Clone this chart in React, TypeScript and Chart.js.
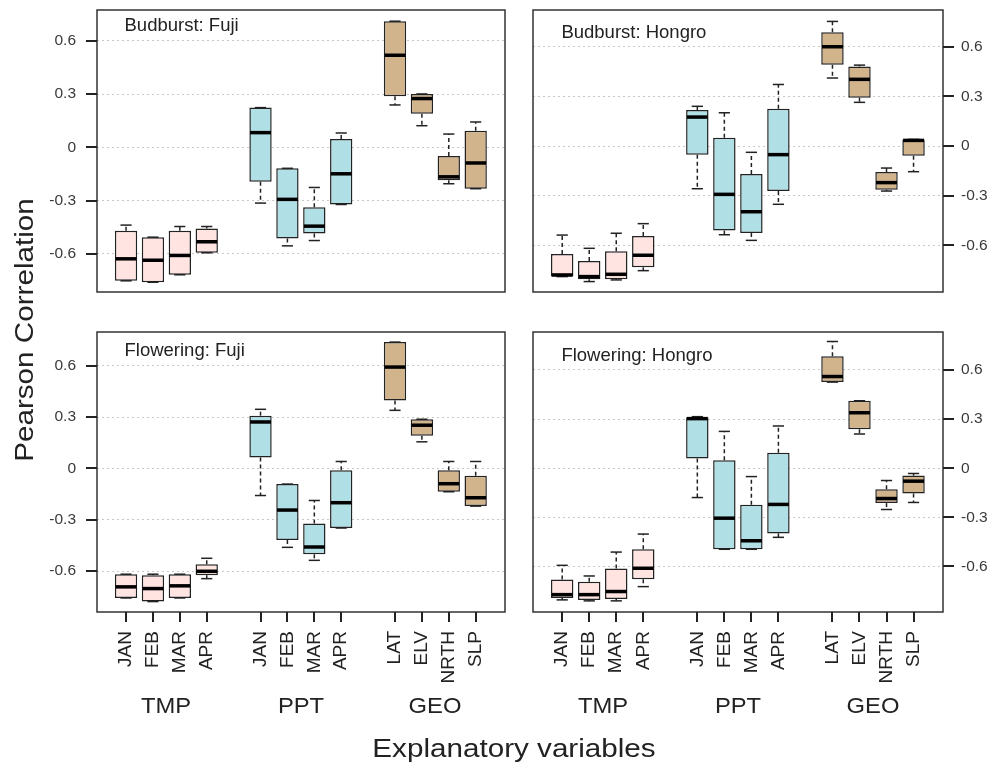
import React, { useEffect, useRef } from 'react';
import { Chart, registerables } from 'chart.js';
Chart.register(...registerables);

const FONT = '"Liberation Sans", Arial, Helvetica, sans-serif';
const W = 998;
const H = 766;

// ---------- data ----------
const positions = [1, 2, 3, 4, 6, 7, 8, 9, 11, 12, 13, 14];
const varLabels = ['JAN', 'FEB', 'MAR', 'APR', 'JAN', 'FEB', 'MAR', 'APR', 'LAT', 'ELV', 'NRTH', 'SLP'];
const varGroup = ['TMP', 'TMP', 'TMP', 'TMP', 'PPT', 'PPT', 'PPT', 'PPT', 'GEO', 'GEO', 'GEO', 'GEO'];
const groupNames = ['TMP', 'PPT', 'GEO'];
const groupCenters = [2.5, 7.5, 12.5];
const yTickValues = [-0.6, -0.3, 0, 0.3, 0.6];
const yTickLabels = ['-0.6', '-0.3', '0', '0.3', '0.6'];

// Budburst: Fuji
const bfLow = [-0.752, -0.76, -0.718, -0.594, -0.314, -0.555, -0.525, -0.322, 0.239, 0.122, -0.205, -0.233];
const bfQ1 = [-0.752, -0.76, -0.718, -0.594, -0.194, -0.513, -0.485, -0.322, 0.288, 0.19, -0.186, -0.233];
const bfMed = [-0.628, -0.636, -0.609, -0.532, 0.083, -0.293, -0.444, -0.149, 0.519, 0.275, -0.166, -0.088];
const bfQ3 = [-0.47, -0.506, -0.47, -0.457, 0.224, -0.118, -0.337, 0.047, 0.711, 0.301, -0.049, 0.094];
const bfHigh = [-0.438, -0.506, -0.446, -0.446, 0.224, -0.118, -0.226, 0.081, 0.711, 0.301, 0.075, 0.143];

// Budburst: Hongro
const bhLow = [-0.789, -0.819, -0.809, -0.753, -0.258, -0.536, -0.57, -0.352, 0.411, 0.264, -0.272, -0.155];
const bhQ1 = [-0.789, -0.805, -0.805, -0.733, -0.052, -0.511, -0.525, -0.272, 0.491, 0.292, -0.264, -0.058];
const bhMed = [-0.779, -0.789, -0.775, -0.66, 0.175, -0.292, -0.397, -0.052, 0.6, 0.403, -0.221, 0.034];
const bhQ3 = [-0.652, -0.695, -0.636, -0.544, 0.217, 0.05, -0.169, 0.225, 0.687, 0.481, -0.157, 0.04];
const bhHigh = [-0.538, -0.618, -0.527, -0.469, 0.24, 0.201, -0.038, 0.372, 0.753, 0.489, -0.133, 0.04];

// Flowering: Fuji
const ffLow = [-0.757, -0.778, -0.757, -0.644, -0.158, -0.461, -0.537, -0.348, 0.34, 0.156, -0.136, -0.22];
const ffQ1 = [-0.757, -0.778, -0.757, -0.624, 0.064, -0.418, -0.502, -0.348, 0.397, 0.191, -0.136, -0.22];
const ffMed = [-0.692, -0.702, -0.686, -0.601, 0.272, -0.243, -0.459, -0.2, 0.593, 0.253, -0.089, -0.171];
const ffQ3 = [-0.618, -0.624, -0.618, -0.56, 0.309, -0.091, -0.321, -0.01, 0.739, 0.288, -0.01, -0.043];
const ffHigh = [-0.618, -0.618, -0.618, -0.525, 0.346, -0.091, -0.187, 0.041, 0.739, 0.288, 0.041, 0.041];

// Flowering: Hongro
const fhLow = [-0.804, -0.81, -0.81, -0.723, -0.179, -0.495, -0.495, -0.422, 0.526, 0.209, -0.252, -0.209];
const fhQ1 = [-0.792, -0.804, -0.798, -0.678, 0.059, -0.495, -0.495, -0.398, 0.526, 0.238, -0.213, -0.154];
const fhMed = [-0.772, -0.772, -0.753, -0.611, 0.303, -0.305, -0.443, -0.221, 0.56, 0.339, -0.185, -0.079];
const fhQ3 = [-0.68, -0.694, -0.613, -0.495, 0.311, 0.049, -0.223, 0.095, 0.684, 0.412, -0.128, -0.045];
const fhHigh = [-0.593, -0.658, -0.512, -0.402, 0.315, 0.225, -0.051, 0.258, 0.774, 0.412, -0.075, -0.032];

// ---------- styling / layout ----------
const groupColors: Record<string, string> = { TMP: '#FFE4E1', PPT: '#B0E0E6', GEO: '#D2B48C' };
const X_MIN = -0.08;
const X_MAX = 15.09;
const Y_TICK_LEN = 11;
const X_TICK_LEN = 10;

const panels = [
  { key: 'bf', title: 'Budburst: Fuji', lo: bfLow, q1: bfQ1, med: bfMed, q3: bfQ3, hi: bfHigh,
    area: { l: 97, r: 505, t: 10, b: 292 }, yMin: -0.815, yMax: 0.774, side: 'left', showX: false,
    titlePos: { left: 124.5, top: 15.9 } },
  { key: 'bh', title: 'Budburst: Hongro', lo: bhLow, q1: bhQ1, med: bhMed, q3: bhQ3, hi: bhHigh,
    area: { l: 533, r: 943, t: 10, b: 292 }, yMin: -0.882, yMax: 0.822, side: 'right', showX: false,
    titlePos: { left: 561.4, top: 22.6 } },
  { key: 'ff', title: 'Flowering: Fuji', lo: ffLow, q1: ffQ1, med: ffMed, q3: ffQ3, hi: ffHigh,
    area: { l: 97, r: 505, t: 332, b: 612 }, yMin: -0.839, yMax: 0.798, side: 'left', showX: true,
    titlePos: { left: 124.5, top: 340.9 } },
  { key: 'fh', title: 'Flowering: Hongro', lo: fhLow, q1: fhQ1, med: fhMed, q3: fhQ3, hi: fhHigh,
    area: { l: 533, r: 943, t: 332, b: 612 }, yMin: -0.878, yMax: 0.832, side: 'right', showX: true,
    titlePos: { left: 561.4, top: 345.9 } },
];

function line(ctx: any, x1: number, y1: number, x2: number, y2: number) {
  ctx.beginPath();
  ctx.moveTo(x1, y1);
  ctx.lineTo(x2, y2);
  ctx.stroke();
}

function makeExtras(p: any) {
  return {
    id: 'boxExtras_' + p.key,
    afterDatasetsDraw(chart: any) {
      const ctx = chart.ctx;
      const xs = chart.scales.x;
      const ys = chart.scales.y;
      const meta = chart.getDatasetMeta(0);
      ctx.save();
      positions.forEach((pos, i) => {
        const bar = meta.data[i];
        const w = bar.width;
        const cx = xs.getPixelForValue(pos);
        const yLo = ys.getPixelForValue(p.lo[i]);
        const yQ1 = ys.getPixelForValue(p.q1[i]);
        const yMed = ys.getPixelForValue(p.med[i]);
        const yQ3 = ys.getPixelForValue(p.q3[i]);
        const yHi = ys.getPixelForValue(p.hi[i]);
        ctx.strokeStyle = '#222';
        ctx.lineWidth = 1.5;
        ctx.lineCap = 'butt';
        ctx.setLineDash([4, 3]);
        if (p.hi[i] > p.q3[i]) line(ctx, cx, yQ3, cx, yHi);
        if (p.lo[i] < p.q1[i]) line(ctx, cx, yQ1, cx, yLo);
        ctx.setLineDash([]);
        line(ctx, cx - w / 4, yHi, cx + w / 4, yHi);
        line(ctx, cx - w / 4, yLo, cx + w / 4, yLo);
        ctx.strokeStyle = '#000';
        ctx.lineWidth = 3.5;
        line(ctx, cx - w / 2 + 0.75, yMed, cx + w / 2 - 0.75, yMed);
      });
      ctx.restore();
    },
    afterDraw(chart: any) {
      const ctx = chart.ctx;
      const a = chart.chartArea;
      const xs = chart.scales.x;
      const ys = chart.scales.y;
      ctx.save();
      ctx.strokeStyle = '#333';
      ctx.lineWidth = 1.5;
      ctx.setLineDash([]);
      ctx.strokeRect(a.left, a.top, a.right - a.left, a.bottom - a.top);
      ctx.strokeStyle = '#222';
      ctx.lineWidth = 2;
      yTickValues.forEach((v) => {
        const y = Math.round(ys.getPixelForValue(v));
        if (p.side === 'left') line(ctx, a.left - Y_TICK_LEN, y, a.left, y);
        else line(ctx, a.right, y, a.right + Y_TICK_LEN, y);
      });
      if (p.showX) {
        positions.forEach((pos) => {
          const x = Math.round(xs.getPixelForValue(pos));
          line(ctx, x, a.bottom, x, a.bottom + X_TICK_LEN);
        });
        ctx.fillStyle = '#222';
        ctx.font = `19px ${FONT}`;
        ctx.textAlign = 'right';
        ctx.textBaseline = 'middle';
        positions.forEach((pos, i) => {
          ctx.save();
          ctx.translate(xs.getPixelForValue(pos), a.bottom + 19);
          ctx.rotate(-Math.PI / 2);
          ctx.fillText(varLabels[i], 0, 0);
          ctx.restore();
        });
      }
      ctx.restore();
    },
  };
}

function zeroPad(s: any) {
  s.paddingTop = 0;
  s.paddingBottom = 0;
  s.paddingLeft = 0;
  s.paddingRight = 0;
}

function Panel({ p }: { p: any }) {
  const ref = useRef<HTMLCanvasElement>(null);
  useEffect(() => {
    const canvas = ref.current;
    if (!canvas) return;
    const yW = p.side === 'left' ? 60 : 50;
    const xH = p.showX ? 100 : 0;
    const padding = {
      left: p.side === 'left' ? p.area.l - yW : p.area.l,
      right: p.side === 'right' ? W - p.area.r - yW : W - p.area.r,
      top: p.area.t,
      bottom: H - p.area.b - xH,
    };
    const chart = new Chart(canvas, {
      type: 'bar',
      data: {
        datasets: [
          {
            data: positions.map((x, i) => ({ x, y: [p.q1[i], p.q3[i]] })),
            backgroundColor: varGroup.map((g) => groupColors[g]),
            borderColor: '#222',
            borderWidth: 1.5,
            borderSkipped: false,
            barPercentage: 0.83,
            categoryPercentage: 1,
          } as any,
        ],
      },
      options: {
        animation: false,
        responsive: false,
        maintainAspectRatio: false,
        devicePixelRatio: 1,
        events: [],
        layout: { padding },
        plugins: { legend: { display: false }, tooltip: { enabled: false }, title: { display: false } },
        scales: {
          x: {
            type: 'linear',
            position: 'bottom',
            min: X_MIN,
            max: X_MAX,
            offset: false,
            display: p.showX,
            afterBuildTicks: (s: any) => { s.ticks = positions.map((v) => ({ value: v })); },
            afterFit: (s: any) => { s.height = xH; zeroPad(s); },
            grid: { display: false, drawOnChartArea: false, drawTicks: false, offset: false },
            border: { display: false },
            ticks: { display: false },
          },
          y: {
            type: 'linear',
            position: p.side,
            min: p.yMin,
            max: p.yMax,
            afterBuildTicks: (s: any) => { s.ticks = yTickValues.map((v) => ({ value: v })); },
            afterFit: (s: any) => { s.width = yW; zeroPad(s); },
            grid: { color: '#c8c8c8', lineWidth: 1, drawTicks: false },
            border: { display: false, dash: [2, 3] },
            ticks: {
              padding: p.side === 'left' ? Y_TICK_LEN + 10 : Y_TICK_LEN + 7,
              color: '#3a3a3a',
              font: { family: FONT, size: 15.5 },
              callback: (_v: any, i: number) => yTickLabels[i],
            },
          },
        } as any,
      } as any,
      plugins: [makeExtras(p)],
    });
    return () => chart.destroy();
  }, [p]);
  return (
    <canvas
      ref={ref}
      width={W}
      height={H}
      style={{ position: 'absolute', left: 0, top: 0, width: W, height: H }}
    />
  );
}

function xPix(area: any, v: number) {
  return area.l + ((v - X_MIN) / (X_MAX - X_MIN)) * (area.r - area.l);
}

export default function App() {
  const base: any = { position: 'absolute', fontFamily: FONT, color: '#222', whiteSpace: 'nowrap' };
  return (
    <div style={{ position: 'absolute', left: 0, top: 0, width: W, height: H, background: '#fff', overflow: 'hidden' }}>
      {panels.map((p) => (
        <Panel key={p.key} p={p} />
      ))}
      {panels.map((p) => (
        <div key={'t' + p.key} style={{ ...base, left: p.titlePos.left, top: p.titlePos.top, fontSize: 18.5, lineHeight: '18.5px' }}>
          {p.title}
        </div>
      ))}
      {panels.filter((p) => p.showX).map((p) =>
        groupNames.map((g, gi) => (
          <div
            key={'g' + p.key + g}
            style={{
              ...base,
              left: xPix(p.area, groupCenters[gi]) - 60,
              width: 120,
              textAlign: 'center',
              top: 695.3,
              fontSize: 22,
              lineHeight: '22px',
              transform: 'scaleX(1.08)',
            }}
          >
            {g}
          </div>
        ))
      )}
      <div
        style={{
          ...base,
          left: 514 - 250,
          width: 500,
          textAlign: 'center',
          top: 734.5,
          fontSize: 26,
          lineHeight: '26px',
          transform: 'scaleX(1.14)',
        }}
      >
        Explanatory variables
      </div>
      <div
        style={{
          ...base,
          left: 24.2 - 200,
          top: 330 - 13,
          width: 400,
          height: 26,
          textAlign: 'center',
          fontSize: 26,
          lineHeight: '26px',
          transform: 'rotate(-90deg) scaleX(1.14)',
        }}
      >
        Pearson Correlation
      </div>
    </div>
  );
}
